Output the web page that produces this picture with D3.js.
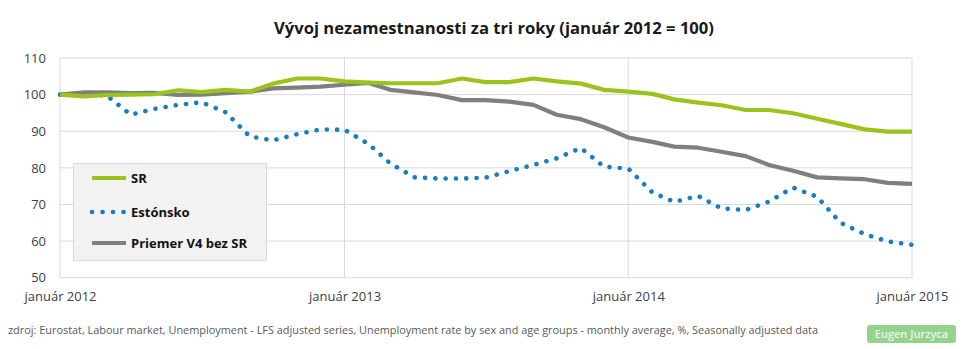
<!DOCTYPE html>
<html><head><meta charset="utf-8">
<script src="https://cdn.jsdelivr.net/npm/d3@7"></script>
<style>body{margin:0;background:#fff}svg{display:block}</style>
</head><body>
<script>
const title = "Vývoj nezamestnanosti za tri roky (január 2012 = 100)";
const source = "zdroj: Eurostat, Labour market, Unemployment - LFS adjusted series, Unemployment rate by sex and age groups - monthly average, %, Seasonally adjusted data";
const badge = "Eugen Jurzyca";
const startMonth = new Date(2012, 0, 1);
const endMonth = new Date(2015, 0, 1);
const xTickDates = [new Date(2012,0,1), new Date(2013,0,1), new Date(2014,0,1), new Date(2015,0,1)];
const xTickLabels = ["január 2012", "január 2013", "január 2014", "január 2015"];
const yTicks = [50, 60, 70, 80, 90, 100, 110];
const seriesNames = ["SR", "Estónsko", "Priemer V4 bez SR"];
const sr = [100, 99.5, 99.9, 100, 100.1, 101.2, 100.7, 101.3, 100.8, 103, 104.4, 104.4,
  103.6, 103.3, 103.1, 103.1, 103.1, 104.4, 103.4, 103.4, 104.4, 103.6, 103, 101.3,
  100.8, 100.2, 98.7, 97.8, 97.1, 95.8, 95.8, 94.9, 93.4, 92, 90.5, 89.9, 89.9];
const estonia = [100, 99.9, 99.8, 94.5, 96.1, 97.2, 97.9, 95.2, 88.6, 87.5, 89.2, 90.5,
  90.4, 86.5, 81.2, 77.4, 77.1, 77.1, 77.3, 79.1, 80.8, 82.6, 85.4, 80.3,
  79.8, 73.3, 70.7, 72.3, 68.9, 68.5, 70.8, 74.6, 72.1, 65, 61.9, 59.9, 59];
const v4 = [100, 100.6, 100.6, 100.4, 100.5, 99.9, 100, 100.4, 100.8, 101.7, 101.9, 102.2,
  102.7, 103.2, 101.3, 100.6, 99.9, 98.5, 98.5, 98.1, 97.2, 94.5, 93.3, 91.1,
  88.3, 87.1, 85.8, 85.5, 84.4, 83.2, 80.8, 79.2, 77.4, 77.1, 76.9, 75.9, 75.6];
const colors = ["#9cc31b", "#1b7dc0", "#7f7f7f"];

const W = 967, H = 349;
const months = d3.timeMonth.range(startMonth, d3.timeMonth.offset(endMonth, 1));
const svg = d3.select("body").append("svg").attr("width", W).attr("height", H);
const x = d3.scaleTime().domain([startMonth, endMonth]).range([60, 912]);
const y = d3.scaleLinear().domain([50, 110]).range([277.7, 58]);
const font = "'Open Sans', sans-serif";

svg.append("text").attr("x", 494).attr("y", 34).attr("text-anchor", "middle")
  .attr("font-family", font).attr("font-weight", "bold").attr("font-size", 15.5)
  .attr("fill", "#1a1a1a").attr("textLength", 440).attr("lengthAdjust", "spacingAndGlyphs").text(title);

// grid
svg.append("g").selectAll("line").data(yTicks).join("line")
  .attr("x1", 60).attr("x2", 912).attr("y1", d => y(d)).attr("y2", d => y(d))
  .attr("stroke", "#d9d9d9").attr("stroke-width", 1);
svg.append("g").selectAll("line").data(xTickDates).join("line")
  .attr("x1", d => x(d)).attr("x2", d => x(d)).attr("y1", y(110)).attr("y2", y(50))
  .attr("stroke", "#d9d9d9").attr("stroke-width", 1);

// y axis
const yAxis = svg.append("g").attr("transform", "translate(60,0)")
  .call(d3.axisLeft(y).tickValues(yTicks).tickSize(0).tickPadding(14));
yAxis.select(".domain").remove();
yAxis.selectAll("text").attr("font-family", font).attr("font-size", 13).attr("fill", "#404040");

// x axis
const xAxis = svg.append("g").attr("transform", `translate(0,${y(50)})`)
  .call(d3.axisBottom(x).tickValues(xTickDates).tickSize(0).tickPadding(14)
    .tickFormat((d, i) => xTickLabels[i]));
xAxis.select(".domain").remove();
xAxis.selectAll("text").attr("font-family", font).attr("font-size", 13).attr("fill", "#404040");

const line = d3.line().x((d, i) => x(months[i])).y(d => y(d));
const all = [sr, estonia, v4];
const order = [1, 2, 0];
order.forEach(k => {
  const p = svg.append("path").datum(all[k]).attr("d", line).attr("fill", "none")
    .attr("stroke", colors[k]);
  if (k === 1) p.attr("stroke-width", 4.6).attr("stroke-linecap", "round").attr("stroke-dasharray", "0.1 10.2");
  else p.attr("stroke-width", 4.2).attr("stroke-linejoin", "round");
});

// legend
const lg = svg.append("g");
lg.append("rect").attr("x", 73.5).attr("y", 163.5).attr("width", 193).attr("height", 97)
  .attr("fill", "#f2f2f2").attr("stroke", "#d9d9d9");
const ly = [178, 212, 243];
seriesNames.forEach((n, k) => {
  const l = lg.append("line").attr("x1", 92).attr("x2", 126).attr("y1", ly[k]).attr("y2", ly[k])
    .attr("stroke", colors[k]);
  if (k === 1) l.attr("stroke-width", 4.6).attr("stroke-linecap", "round").attr("stroke-dasharray", "0.1 10.4");
  else l.attr("stroke-width", 4.2);
  lg.append("text").attr("x", 131).attr("y", ly[k]).attr("dy", "0.35em")
    .attr("font-family", font).attr("font-weight", "bold").attr("font-size", 13)
    .attr("fill", "#111").text(n);
});

// footer
svg.append("text").attr("x", 8).attr("y", 334).attr("font-family", font).attr("font-size", 11)
  .attr("fill", "#595959").attr("textLength", 810).attr("lengthAdjust", "spacingAndGlyphs").text(source);
svg.append("rect").attr("x", 867).attr("y", 325).attr("width", 89).attr("height", 18).attr("rx", 3)
  .attr("fill", "#93d38d");
svg.append("text").attr("x", 911.5).attr("y", 334).attr("dy", "0.35em").attr("text-anchor", "middle")
  .attr("font-family", font).attr("font-weight", "600").attr("font-size", 11).attr("fill", "#eaf7e8").text(badge);
</script>
</body></html>
